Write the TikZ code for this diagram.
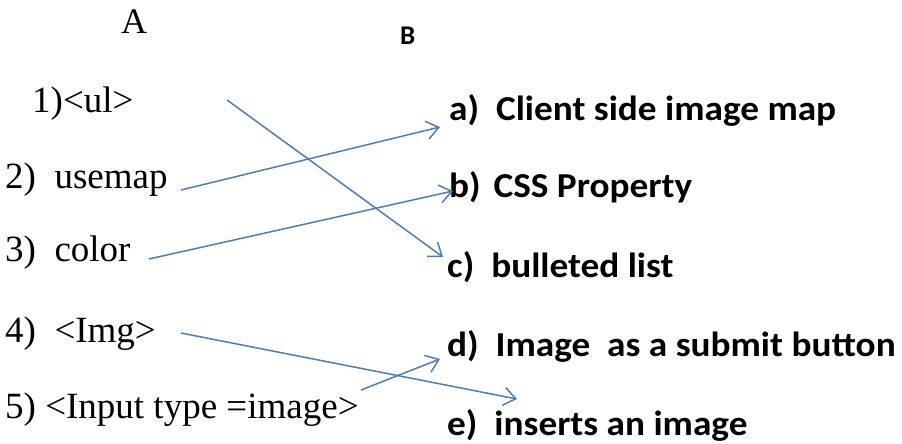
\documentclass[tikz,border=0pt]{standalone}
\usepackage{fontspec}
\setmainfont{Liberation Serif}
\newfontfamily\calibri{Carlito}
\usetikzlibrary{arrows.meta}
\definecolor{linkblue}{HTML}{4A7EBB}
\tikzset{
  lefttxt/.style={anchor=base west, inner sep=0pt, font=\fontsize{37}{40}\selectfont},
  righttxt/.style={anchor=base west, inner sep=0pt, xscale=1.065, font=\calibri\bfseries\fontsize{35}{38}\selectfont},
  link/.style={draw=linkblue, line width=1.5pt, -{Straight Barb[length=12pt,width=18pt,line width=1.5pt]}}
}
\begin{document}
\begin{tikzpicture}[x=1pt,y=-1pt]
\useasboundingbox (0,0) rectangle (902,444);
\node[anchor=base west, inner sep=0pt, font=\fontsize{36}{38}\selectfont] (hA) at (121,34) {A};
\node[anchor=base west, inner sep=0pt, font=\calibri\bfseries\fontsize{27}{30}\selectfont] (hB) at (400,45) {B};
\node[lefttxt] (l1) at (32,112) {1)<ul>};
\node[lefttxt] (l2) at (5,188) {2)\ \ usemap};
\node[lefttxt] (l3) at (5,261) {3)\ \ color};
\node[lefttxt] (l4) at (5,342) {4)\ \ <Img>};
\node[lefttxt] (l5) at (5,418) {5) <Input type =image>};
\node[righttxt] (r1) at (449,120) {a)\ \ Client side image map};
\node[righttxt] (r2) at (449,197) {b)\hspace{4pt}\ CSS Property};
\node[righttxt] (r3) at (447,277) {c)\ \ bulleted list};
\node[righttxt] (r4) at (447,356) {d)\ \ Image\ \ as a submit button};
\node[righttxt] (r5) at (447,435) {e)\ \ inserts an image};
\coordinate (s1) at (227,100);
\coordinate (e1) at (443,257);
\coordinate (s2) at (181,190);
\coordinate (e2) at (440,127);
\coordinate (s3) at (149,259);
\coordinate (e3) at (453,191);
\coordinate (s4) at (181,333);
\coordinate (e4) at (517,399);
\coordinate (s5) at (361,390);
\coordinate (e5) at (440,359);
\draw[link] (s1) -- (e1);
\draw[link] (s2) -- (e2);
\draw[link] (s3) -- (e3);
\draw[link] (s4) -- (e4);
\draw[link] (s5) -- (e5);
\end{tikzpicture}
\end{document}
